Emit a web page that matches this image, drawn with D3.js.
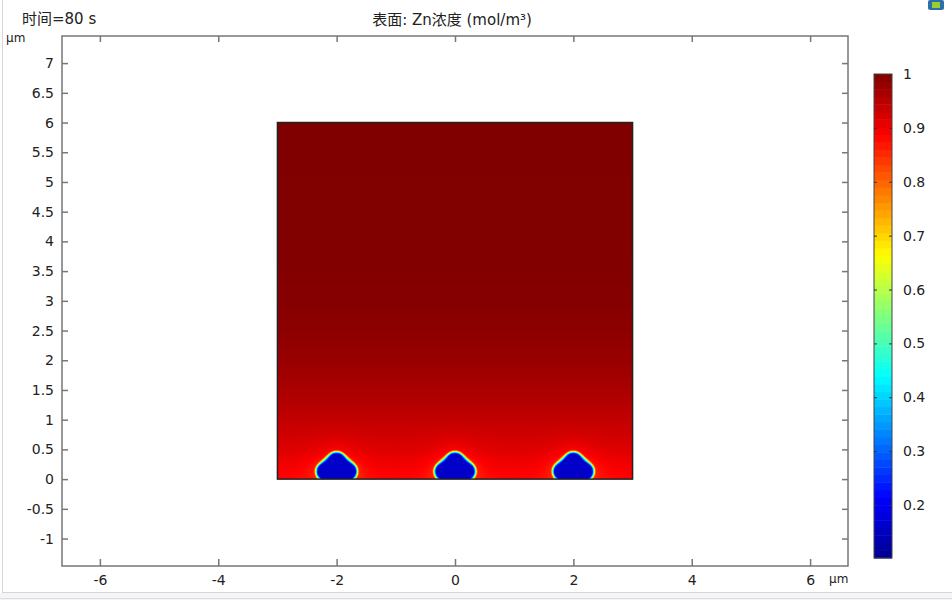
<!DOCTYPE html>
<html>
<head>
<meta charset="utf-8">
<script src="https://cdn.jsdelivr.net/npm/d3@7"></script>
<style>
  body { margin: 0; background: #fff; }
  text { font-family: "DejaVu Sans", "Noto Sans CJK SC", sans-serif; fill: #222; }
</style>
</head>
<body>
<svg id="chart" width="952" height="600"></svg>
<script>
// ---- data ----
const xTicks = [-6, -4, -2, 0, 2, 4, 6];
const yTicks = [-1, -0.5, 0, 0.5, 1, 1.5, 2, 2.5, 3, 3.5, 4, 4.5, 5, 5.5, 6, 6.5, 7];
const cbTicks = [0.2, 0.3, 0.4, 0.5, 0.6, 0.7, 0.8, 0.9, 1];
const rectX = [-3, 3];
const rectY = [0, 6];
// particle (zinc deposit) centres and the lobes that make up each shape
const particleX = [-2, 0, 2];
const lobeDx = [0, -0.19, 0.19, 0];
const lobeDy = [0.29, 0.13, 0.13, 0.1];
const lobeR = [0.16, 0.15, 0.15, 0.2];
// concentration far from particles, by height
const profileY = [0, 0.25, 0.5, 1, 1.5, 2, 2.5, 3, 4, 6];
const profileC = [0.885, 0.9, 0.918, 0.942, 0.963, 0.978, 0.988, 0.995, 0.999, 1];
const coreC = 0.16;
const cRange = [0.1017, 1];
// COMSOL "Rainbow" style colour table
const rainbowStops = [0, 0.125, 0.375, 0.625, 0.875, 1];
const rainbowColors = ["#00008f", "#0000ff", "#00ffff", "#ffff00", "#ff0000", "#800000"];

const svg = d3.select("#chart");

// frame of the window
svg.append("line").attr("x1", 2.5).attr("x2", 2.5).attr("y1", 0).attr("y2", 592.5)
    .attr("stroke", "#d6d6d6");
svg.append("line").attr("x1", 2).attr("x2", 952).attr("y1", 592.5).attr("y2", 592.5)
    .attr("stroke", "#d6d6d6");
svg.append("rect").attr("x", 0).attr("y", 593).attr("width", 952).attr("height", 7)
    .attr("fill", "#f5f5f7");
svg.append("line").attr("x1", 0).attr("x2", 952).attr("y1", 598.5).attr("y2", 598.5)
    .attr("stroke", "#dcdcdc");

// small icon top right
svg.append("rect").attr("x", 928).attr("y", 0).attr("width", 16).attr("height", 10)
    .attr("rx", 2).attr("fill", "#2f6fa8");
svg.append("rect").attr("x", 932).attr("y", 2).attr("width", 8).attr("height", 6)
    .attr("fill", "#9acd32");

const plot = { left: 62, right: 848, top: 36, bottom: 566 };

const x = d3.scaleLinear().domain([-6.64, 6.64]).range([plot.left, plot.right]);
const y = d3.scaleLinear().domain([-1.462, 7.456]).range([plot.bottom, plot.top]);

const colorT = d3.scaleLinear().domain(cRange).range([0, 1]).clamp(true);
const rainbow = d3.scaleLinear().domain(rainbowStops).range(rainbowColors);
const color = c => rainbow(colorT(c));

// ---- field image ----
const bg = d3.scaleLinear().domain(profileY).range(profileC).clamp(true);
const lut = d3.range(1024).map(i => d3.rgb(rainbow(i / 1023)));

function smin(a, b, k) {
    const h = Math.max(k - Math.abs(a - b), 0) / k;
    return Math.min(a, b) - h * h * k / 4;
}
function smoothstep(e0, e1, v) {
    const t = Math.max(0, Math.min(1, (v - e0) / (e1 - e0)));
    return t * t * (3 - 2 * t);
}
function concentration(px, py) {
    let d = Infinity;
    particleX.forEach(cx => {
        let dp = Infinity;
        lobeDx.forEach((dx, i) => {
            const di = Math.hypot(px - cx - dx, py - lobeDy[i]) - lobeR[i];
            dp = dp === Infinity ? di : smin(dp, di, 0.14);
        });
        d = Math.min(d, dp);
    });
    const outer = bg(py) - 0.04 * Math.exp(-Math.max(d, 0) / 0.15);
    const s = smoothstep(-0.035, 0.05, d);
    return coreC + (outer - coreC) * s;
}

const ix0 = Math.round(x(rectX[0])), ix1 = Math.round(x(rectX[1]));
const iy0 = Math.round(y(rectY[1])), iy1 = Math.round(y(rectY[0]));
const w = ix1 - ix0, h = iy1 - iy0;
const canvas = document.createElement("canvas");
canvas.width = w; canvas.height = h;
const ctx = canvas.getContext("2d");
const img = ctx.createImageData(w, h);
for (let j = 0; j < h; j++) {
    const py = y.invert(iy0 + j + 0.5);
    for (let i = 0; i < w; i++) {
        const px = x.invert(ix0 + i + 0.5);
        const t = colorT(concentration(px, py));
        const c = lut[Math.round(t * 1023)];
        const k = (j * w + i) * 4;
        img.data[k] = c.r; img.data[k + 1] = c.g; img.data[k + 2] = c.b; img.data[k + 3] = 255;
    }
}
ctx.putImageData(img, 0, 0);
svg.append("image")
    .attr("x", ix0).attr("y", iy0).attr("width", w).attr("height", h)
    .attr("preserveAspectRatio", "none")
    .attr("href", canvas.toDataURL());

svg.append("rect")
    .attr("x", x(rectX[0])).attr("y", y(rectY[1]))
    .attr("width", x(rectX[1]) - x(rectX[0]))
    .attr("height", y(rectY[0]) - y(rectY[1]))
    .attr("fill", "none").attr("stroke", "#222").attr("stroke-width", 1.5);

// ---- axes ----
const fmt = d => String(d);
function styleAxis(g) {
    g.select(".domain").remove();
    g.selectAll("line").attr("stroke", "#777").attr("stroke-width", 1.5);
    g.selectAll("text").attr("font-size", 14).attr("fill", "#222")
        .attr("font-family", "DejaVu Sans, sans-serif");
}
svg.append("g").attr("transform", `translate(${plot.left},0)`)
    .call(d3.axisLeft(y).tickValues(yTicks).tickFormat(fmt).tickSize(-6).tickPadding(8))
    .call(styleAxis);
svg.append("g").attr("transform", `translate(${plot.right},0)`)
    .call(d3.axisRight(y).tickValues(yTicks).tickFormat("").tickSize(-6))
    .call(styleAxis);
svg.append("g").attr("transform", `translate(0,${plot.bottom})`)
    .call(d3.axisBottom(x).tickValues(xTicks).tickFormat(fmt).tickSize(-7).tickPadding(9))
    .call(styleAxis);
svg.append("g").attr("transform", `translate(0,${plot.top})`)
    .call(d3.axisTop(x).tickValues(xTicks).tickFormat("").tickSize(-6))
    .call(styleAxis);

svg.append("rect")
    .attr("x", plot.left).attr("y", plot.top)
    .attr("width", plot.right - plot.left).attr("height", plot.bottom - plot.top)
    .attr("fill", "none").attr("stroke", "#777").attr("stroke-width", 1.5);

// unit labels and titles
svg.append("text").attr("x", 6).attr("y", 42).attr("font-size", 12).text("µm");
svg.append("text").attr("x", 829).attr("y", 583).attr("font-size", 12).text("µm");
svg.append("text").attr("x", 22).attr("y", 24).attr("font-size", 15).text("时间=80 s");
svg.append("text").attr("x", 452).attr("y", 25).attr("font-size", 15)
    .attr("text-anchor", "middle").text("表面: Zn浓度 (mol/m³)");

// ---- colour bar ----
const cb = { x: 874, w: 18, top: 74, bottom: 558 };
const cbScale = d3.scaleLinear().domain(cRange).range([cb.bottom, cb.top]);
const nBands = 64;
const bandEdges = d3.range(nBands + 1).map(i => cRange[0] + (cRange[1] - cRange[0]) * i / nBands);
svg.append("g").selectAll("rect")
    .data(d3.range(nBands))
    .enter().append("rect")
    .attr("x", cb.x)
    .attr("y", i => cbScale(bandEdges[i + 1]))
    .attr("width", cb.w)
    .attr("height", i => cbScale(bandEdges[i]) - cbScale(bandEdges[i + 1]) + 0.5)
    .attr("fill", i => color((bandEdges[i] + bandEdges[i + 1]) / 2));
svg.append("rect")
    .attr("x", cb.x).attr("y", cb.top).attr("width", cb.w).attr("height", cb.bottom - cb.top)
    .attr("fill", "none").attr("stroke", "#444").attr("stroke-width", 1);

const cbAxis = svg.append("g").attr("transform", `translate(${cb.x + cb.w},0)`)
    .call(d3.axisRight(cbScale).tickValues(cbTicks).tickFormat(fmt).tickSize(-3).tickPadding(11));
cbAxis.select(".domain").remove();
cbAxis.selectAll("line").attr("stroke", "#333");
cbAxis.selectAll("text").attr("font-size", 14).attr("fill", "#222")
    .attr("font-family", "DejaVu Sans, sans-serif");
svg.append("g").attr("transform", `translate(${cb.x},0)`)
    .call(d3.axisLeft(cbScale).tickValues(cbTicks).tickFormat("").tickSize(-3))
    .call(g => g.select(".domain").remove())
    .selectAll("line").attr("stroke", "#333");
</script>
</body>
</html>
